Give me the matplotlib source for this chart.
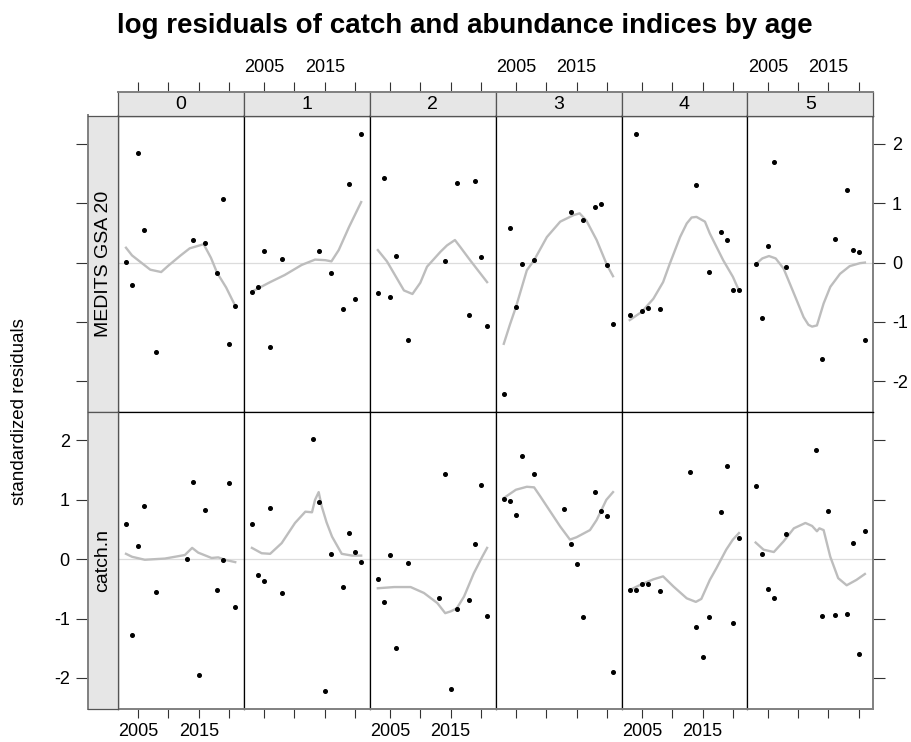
import matplotlib
matplotlib.use('Agg')
import matplotlib.pyplot as plt

plt.rcParams['font.family'] = ['Liberation Sans', 'DejaVu Sans']

# panels: ages across, index (survey) on top row, catch on bottom row
ages = ['0', '1', '2', '3', '4', '5']
row_labels = ['MEDITS GSA 20', 'catch.n']

survey_years = [2003, 2004, 2005, 2006, 2008, 2014, 2016, 2018, 2019, 2020, 2021]
survey_resid = [
    [0.01, -0.37, 1.85, 0.55, -1.50, 0.38, 0.33, -0.17, 1.07, -1.38, -0.73],
    [-0.49, -0.41, 0.19, -1.42, 0.06, 0.19, -0.17, -0.78, 1.33, -0.62, 2.16],
    [-0.52, 1.43, -0.58, 0.11, -1.30, 0.03, 1.34, -0.89, 1.37, 0.10, -1.07],
    [-2.22, 0.58, -0.75, -0.03, 0.04, 0.85, 0.71, 0.93, 0.98, -0.04, -1.04],
    [-0.89, 2.16, -0.82, -0.76, -0.79, 1.31, -0.16, 0.51, 0.38, -0.46, -0.46],
    [-0.03, -0.93, 0.28, 1.70, -0.07, -1.63, 0.39, 1.23, 0.21, 0.17, -1.31],
]

catch_years = [2003, 2004, 2005, 2006, 2008, 2013, 2014, 2015, 2016, 2018, 2019, 2020, 2021]
catch_resid = [
    [0.60, -1.28, 0.22, 0.89, -0.56, 0.01, 1.30, -1.96, 0.83, -0.52, -0.02, 1.29, -0.81],
    [0.60, -0.26, -0.36, 0.87, -0.57, 2.03, 0.96, -2.22, 0.08, -0.47, 0.44, 0.12, -0.04],
    [-0.34, -0.72, 0.07, -1.49, -0.07, -0.66, 1.44, -2.18, -0.84, -0.69, 0.25, 1.25, -0.95],
    [1.02, 0.98, 0.74, 1.74, 1.44, 0.85, 0.25, -0.08, -0.97, 1.13, 0.81, 0.72, -1.90],
    [-0.52, -0.52, -0.42, -0.42, -0.53, 1.47, -1.14, -1.65, -0.97, 0.79, 1.57, -1.07, 0.35],
    [1.24, 0.09, -0.51, -0.66, 0.43, 1.84, -0.96, 0.81, -0.94, -0.93, 0.27, -1.60, 0.47],
]

# smoothed trend lines
survey_smooth_x = [
    [2003, 2004, 2005.5, 2007, 2008.8, 2010, 2012, 2013.5, 2014.5, 2015.8, 2017, 2018, 2019.5, 2021],
    [2003, 2006, 2008.4, 2011.2, 2013.4, 2015.1, 2016.1, 2017.3, 2019, 2021],
    [2003, 2004.5, 2005.7, 2007.3, 2008.7, 2010, 2011.1, 2013.3, 2014.4, 2015.7, 2016.6, 2018.2, 2021],
    [2003, 2004, 2005, 2006.8, 2008, 2010.1, 2012.3, 2014.5, 2015.5, 2016.6, 2018.3, 2020, 2021],
    [2003, 2005, 2006.9, 2008.5, 2009.6, 2011.3, 2012.4, 2013.2, 2014, 2015.4, 2016.2, 2018.4, 2020, 2021],
    [2003, 2004.1, 2005.2, 2006.3, 2007.6, 2009.3, 2010.9, 2011.7, 2012.3, 2013.1, 2014.2, 2015.3, 2016.9, 2018.5, 2020.2, 2021],
]
survey_smooth_y = [
    [0.25, 0.12, 0.00, -0.12, -0.16, -0.05, 0.12, 0.24, 0.27, 0.31, 0.08, -0.17, -0.42, -0.73],
    [-0.49, -0.33, -0.21, -0.04, 0.05, 0.04, 0.02, 0.21, 0.60, 1.02],
    [0.21, 0.02, -0.19, -0.47, -0.53, -0.34, -0.07, 0.18, 0.29, 0.38, 0.26, 0.04, -0.33],
    [-1.37, -1.05, -0.75, -0.13, 0.04, 0.43, 0.69, 0.80, 0.83, 0.71, 0.38, -0.04, -0.23],
    [-0.97, -0.83, -0.61, -0.33, -0.02, 0.43, 0.66, 0.76, 0.77, 0.69, 0.49, 0.04, -0.24, -0.47],
    [-0.03, 0.07, 0.11, 0.07, -0.10, -0.52, -0.92, -1.05, -1.08, -1.06, -0.69, -0.41, -0.19, -0.06, -0.01, 0.0],
]

catch_smooth_x = [
    [2003, 2004, 2006.1, 2009.4, 2012.7, 2013.9, 2014.9, 2017.1, 2018.2, 2019.3, 2021],
    [2003, 2004.6, 2006, 2007.9, 2010.1, 2011.8, 2012.9, 2013.4, 2014, 2014.5, 2015.3, 2016.2, 2017.8, 2019.5, 2021],
    [2003, 2005.7, 2008.4, 2010.6, 2012.8, 2014.1, 2015, 2016, 2017.2, 2018.8, 2020.2, 2021],
    [2003, 2005, 2006.8, 2008, 2009, 2010.1, 2012.3, 2013.9, 2015, 2017.2, 2018.3, 2019.9, 2021],
    [2003, 2005, 2006.9, 2008.5, 2010.2, 2012.4, 2013.9, 2014.8, 2016.2, 2017.3, 2018.9, 2020, 2021],
    [2003, 2004.3, 2006, 2007.6, 2009.3, 2011.2, 2012.3, 2013.1, 2013.5, 2014.2, 2015.3, 2016.6, 2018, 2019.6, 2021],
]
catch_smooth_y = [
    [0.09, 0.04, -0.01, 0.01, 0.07, 0.19, 0.11, 0.02, 0.03, -0.01, -0.05],
    [0.19, 0.10, 0.09, 0.27, 0.61, 0.80, 0.79, 1.00, 1.13, 0.89, 0.62, 0.38, 0.09, 0.06, 0.06],
    [-0.49, -0.47, -0.47, -0.57, -0.74, -0.91, -0.88, -0.83, -0.63, -0.24, 0.04, 0.19],
    [1.03, 1.17, 1.22, 1.21, 1.06, 0.89, 0.55, 0.33, 0.37, 0.49, 0.66, 1.00, 1.13],
    [-0.52, -0.42, -0.34, -0.29, -0.46, -0.66, -0.72, -0.67, -0.35, -0.15, 0.16, 0.33, 0.44],
    [0.28, 0.16, 0.12, 0.30, 0.52, 0.61, 0.56, 0.47, 0.52, 0.49, 0.04, -0.32, -0.44, -0.35, -0.25],
]

year_ticks = [2005, 2010, 2015, 2020]
resid_ticks = [-2, -1, 0, 1, 2]

W, H = 912, 742
fig = plt.figure(figsize=(W / 100, H / 100), dpi=100)


def rect(x0, y0, x1, y1):
    # pixel box (top-left origin) -> figure fraction
    return [x0 / W, 1 - y1 / H, (x1 - x0) / W, (y1 - y0) / H]


panel_left = 117.8
panel_w = 125.93
row_tops = [115.5, 412.0, 708.7]
strip_top = 91.7
strip_left = 88.3
xlim = (2001.65, 2022.4)
ylim = (-2.52, 2.48)
frame_col = '#808080'
tick_col = '#333333'

rows = [
    (survey_years, survey_resid, survey_smooth_x, survey_smooth_y),
    (catch_years, catch_resid, catch_smooth_x, catch_smooth_y),
]

for r, (yrs, resid, sx, sy) in enumerate(rows):
    y0, y1 = row_tops[r], row_tops[r + 1]
    for c in range(6):
        x0 = panel_left + c * panel_w
        ax = fig.add_axes(rect(x0, y0, x0 + panel_w, y1))
        ax.axhline(0, color='#dcdcdc', lw=0.9, zorder=1)
        ax.plot(sx[c], sy[c], color='#bdbdbd', lw=1.7, zorder=2,
                solid_joinstyle='round')
        ax.plot(yrs, resid[c], 'o', color='black', ms=2.6, zorder=3)
        ax.set_xlim(xlim)
        ax.set_ylim(ylim)
        for sp in ax.spines.values():
            sp.set_color('black')
            sp.set_linewidth(0.9)
        ax.set_yticks([])
        if r == 1:
            ax.set_xticks(year_ticks)
            ax.set_xticklabels(['2005', '', '2015', ''] if c % 2 == 0 else [''] * 4)
            ax.tick_params(axis='x', direction='out', length=6.5, width=0.8,
                           color=tick_col, pad=4, labelsize=13)
            ax.spines['bottom'].set_color(frame_col)
            ax.spines['bottom'].set_linewidth(1.4)
        else:
            ax.set_xticks([])
        if c == 5:
            ax.yaxis.tick_right()
            ax.set_yticks(resid_ticks)
            ax.set_yticklabels([str(v) for v in resid_ticks] if r == 0 else [''] * 5)
            ax.tick_params(axis='y', direction='out', length=8.3, width=0.8,
                           color=tick_col, pad=5, labelsize=13)
            ax.spines['right'].set_color(frame_col)
            ax.spines['right'].set_linewidth(1.4)

        # top strip with age label and top axis
        if r == 0:
            st = fig.add_axes(rect(x0, strip_top, x0 + panel_w, y0))
            st.set_facecolor('#e6e6e6')
            st.set_xlim(xlim)
            st.set_yticks([])
            st.xaxis.tick_top()
            st.set_xticks(year_ticks)
            st.set_xticklabels(['2005', '', '2015', ''] if c % 2 == 1 else [''] * 4)
            st.tick_params(axis='x', direction='out', length=7.2, width=0.8,
                           color=tick_col, pad=4, labelsize=13)
            for sp in st.spines.values():
                sp.set_color('#555555')
                sp.set_linewidth(0.9)
            st.spines['top'].set_color(frame_col)
            st.spines['top'].set_linewidth(1.4)
            st.text(0.5, 0.45, ages[c], transform=st.transAxes,
                    ha='center', va='center', fontsize=14)

    # left strip with index name and left axis
    ls = fig.add_axes(rect(strip_left, y0, panel_left, y1))
    ls.set_facecolor('#e6e6e6')
    ls.set_ylim(ylim)
    ls.set_xticks([])
    ls.set_yticks(resid_ticks)
    ls.set_yticklabels([str(v) for v in resid_ticks] if r == 1 else [''] * 5)
    ls.tick_params(axis='y', direction='out', length=8.3, width=0.8,
                   color=tick_col, pad=5, labelsize=13)
    for sp in ls.spines.values():
        sp.set_color('#555555')
        sp.set_linewidth(0.9)
    ls.spines['left'].set_color(frame_col)
    ls.spines['left'].set_linewidth(1.4)
    ls.text(0.5, 0.5, row_labels[r], transform=ls.transAxes, rotation=90,
            ha='center', va='center', fontsize=14)

fig.text(465 / W, 1 - 26 / H, 'log residuals of catch and abundance indices by age',
         ha='center', va='center', fontsize=20, fontweight='bold')
fig.text(20 / W, 1 - 412 / H, 'standardized residuals', rotation=90,
         ha='center', va='center', fontsize=13.5)

fig.savefig('out.png', dpi=100)
